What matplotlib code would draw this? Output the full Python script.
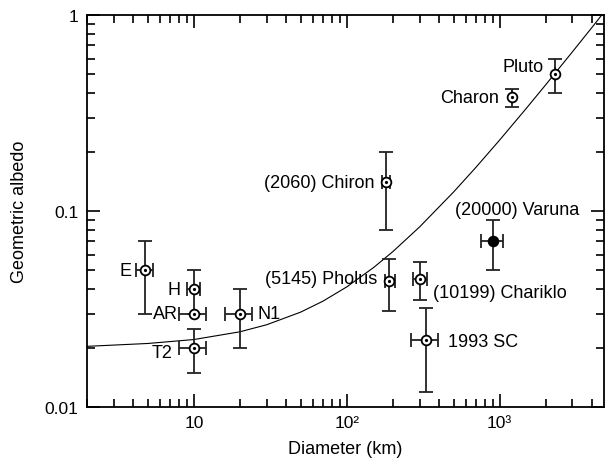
import matplotlib
matplotlib.use('Agg')
import matplotlib.pyplot as plt
from matplotlib.ticker import FixedLocator, FixedFormatter, LogLocator, NullFormatter

plt.rcParams['font.family'] = ['Liberation Sans', 'DejaVu Sans']

# objects: diameter (km), albedo, and error bounds
names = ['E', 'H', 'AR', 'T2', 'N1', '(5145) Pholus', '(10199) Chariklo',
         '1993 SC', '(20000) Varuna', '(2060) Chiron', 'Charon', 'Pluto']
diam = [4.8, 10, 10, 10, 20, 190, 300, 330, 900, 180, 1200, 2300]
diam_lo = [4.2, 9, 8, 8, 16, 177, 270, 262, 752, 170, 1200, 2300]
diam_hi = [5.4, 11, 12, 12, 24, 206, 335, 395, 1047, 191, 1200, 2300]
albedo = [0.05, 0.04, 0.03, 0.02, 0.03, 0.044, 0.045, 0.022, 0.07, 0.14, 0.38, 0.5]
alb_lo = [0.03, 0.03, 0.03, 0.015, 0.02, 0.031, 0.035, 0.012, 0.05, 0.08, 0.34, 0.40]
alb_hi = [0.07, 0.05, 0.03, 0.025, 0.04, 0.057, 0.055, 0.032, 0.09, 0.20, 0.42, 0.60]
filled = [False] * 8 + [True] + [False] * 3

# label offsets from the point (pixels) and alignment
lab_dx = [-14, -13, -16, -21, 18, -12, 13, 22, 25, -11, -13, -11]
lab_dy = [0, 0, 0, -4, 0, 2, -13, -2, 32, 0, 0, 8]
lab_ha = ['right', 'right', 'right', 'right', 'left', 'right', 'left', 'left',
          'center', 'right', 'right', 'right']

# model curve, points
curve_d = [2, 5, 10, 20, 30, 50, 70, 100, 150, 200, 300, 500, 700, 1000,
           1500, 2000, 3000, 4000, 4800]
curve_p = [0.0204, 0.0211, 0.0221, 0.0242, 0.0263, 0.0305, 0.0347, 0.041,
           0.0515, 0.062, 0.083, 0.125, 0.167, 0.23, 0.335, 0.44, 0.65, 0.86, 1.03]

fig = plt.figure(figsize=(6.05, 4.6), dpi=100)
ax = fig.add_axes([0.1438, 0.113, 0.854, 0.852])

ax.plot(curve_d, curve_p, color='black', linewidth=0.8, zorder=1)

for i in range(len(names)):
    xe = [[diam[i] - diam_lo[i]], [diam_hi[i] - diam[i]]]
    ye = [[albedo[i] - alb_lo[i]], [alb_hi[i] - albedo[i]]]
    ax.errorbar([diam[i]], [albedo[i]], xerr=xe, yerr=ye, fmt='none',
                ecolor='#222222', elinewidth=1.3, capsize=5, capthick=1.3, zorder=2)
    face = 'black' if filled[i] else 'white'
    ax.plot([diam[i]], [albedo[i]], 'o', markersize=7, markerfacecolor=face,
            markeredgecolor='black', markeredgewidth=1.3, zorder=3)
    if not filled[i]:
        ax.plot([diam[i]], [albedo[i]], 'o', markersize=1.3, color='black', zorder=4)
    ax.annotate(names[i], (diam[i], albedo[i]), xytext=(lab_dx[i], lab_dy[i]),
                textcoords='offset pixels', ha=lab_ha[i], va='center', fontsize=13)

ax.set_xscale('log')
ax.set_yscale('log')
ax.set_xlim(2, 4800)
ax.set_ylim(0.01, 1)

ax.xaxis.set_major_locator(FixedLocator([10, 100, 1000]))
ax.xaxis.set_major_formatter(FixedFormatter(['10', '10²', '10³']))
ax.xaxis.set_minor_locator(LogLocator(base=10, subs=range(2, 10), numticks=20))
ax.xaxis.set_minor_formatter(NullFormatter())
ax.yaxis.set_major_locator(FixedLocator([0.01, 0.1, 1]))
ax.yaxis.set_major_formatter(FixedFormatter(['0.01', '0.1', '1']))
ax.yaxis.set_minor_locator(LogLocator(base=10, subs=range(2, 10), numticks=20))
ax.yaxis.set_minor_formatter(NullFormatter())

ax.tick_params(which='both', direction='in', top=True, right=True, width=1.2, labelsize=12.5)
ax.tick_params(which='major', length=9.5, pad=6)
ax.tick_params(which='minor', length=5.5)
for s in ax.spines.values():
    s.set_linewidth(1.3)

ax.set_xlabel('Diameter (km)', fontsize=13, labelpad=7)
ax.set_ylabel('Geometric albedo', fontsize=13, labelpad=12)

fig.savefig('out.png', dpi=100)
